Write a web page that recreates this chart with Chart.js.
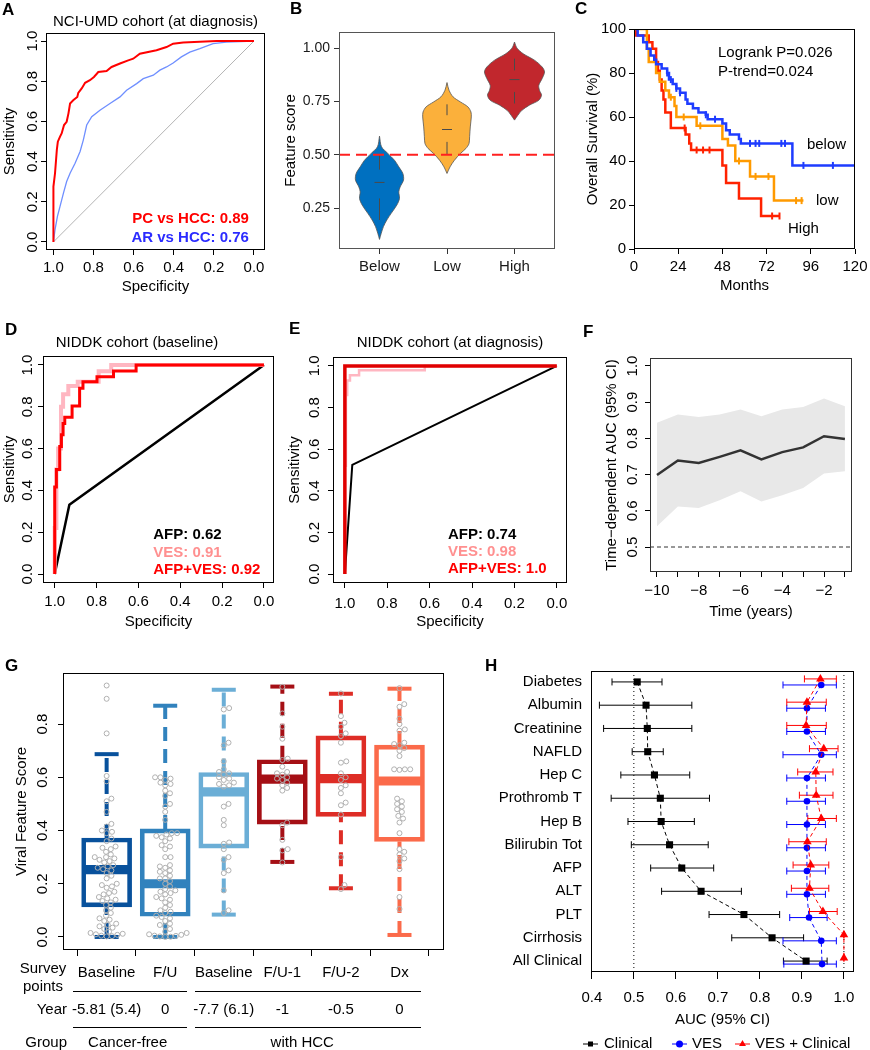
<!DOCTYPE html>
<html lang="en">
<head>
<meta charset="UTF-8">
<title>Viral exposure signature figure</title>
<script src="https://cdn.jsdelivr.net/npm/chart.js"></script>
<style>
  body { margin: 0; background: #fff; font-family: 'Liberation Sans', Arial, sans-serif; }
  #page { position: relative; width: 870px; height: 1050px; overflow: hidden; background: #fff; }
  canvas { position: absolute; }
  .lab { position: absolute; font-weight: bold; font-size: 17px; line-height: 17px; }
  .t { position: absolute; font-size: 15px; line-height: 18px; white-space: nowrap; color: #000; }
  .rule { position: absolute; height: 0; border-top: 1px solid #000; }
</style>
</head>
<body>
<div id="page">
  <canvas id="cA" width="285" height="300" style="left:0px;top:0px"></canvas>
  <canvas id="cB" width="290" height="300" style="left:280px;top:0px"></canvas>
  <canvas id="cC" width="305" height="300" style="left:575px;top:0px"></canvas>
  <canvas id="cD" width="290" height="310" style="left:0px;top:325px"></canvas>
  <canvas id="cE" width="295" height="310" style="left:285px;top:325px"></canvas>
  <canvas id="cF" width="290" height="300" style="left:580px;top:325px"></canvas>
  <canvas id="cG" width="460" height="340" style="left:0px;top:655px"></canvas>
  <canvas id="cH" width="390" height="400" style="left:480px;top:650px"></canvas>

  <div class="lab" style="left:2px;top:1px">A</div>
  <div class="lab" style="left:290px;top:0px">B</div>
  <div class="lab" style="left:575px;top:0px">C</div>
  <div class="lab" style="left:5px;top:321px">D</div>
  <div class="lab" style="left:289px;top:320px">E</div>
  <div class="lab" style="left:583px;top:323px">F</div>
  <div class="lab" style="left:5px;top:657px">G</div>
  <div class="lab" style="left:485px;top:657px">H</div>

  <div class="t" style="left:3px;top:959px;width:80px;text-align:center">Survey<br>points</div>
  <div class="rule" style="left:73px;top:991px;width:114px"></div>
  <div class="rule" style="left:195px;top:991px;width:226px"></div>
  <div class="rule" style="left:73px;top:1027px;width:114px"></div>
  <div class="rule" style="left:195px;top:1027px;width:226px"></div>
  <div class="t" style="left:-33px;top:1000px;width:100px;text-align:right">Year</div>
  <div class="t" style="left:-33px;top:1033px;width:100px;text-align:right">Group</div>
</div>

<script>
    // ---- A: ROC, NCI-UMD cohort ----
    const aPcSpec = [1.0, 1.0, 0.992, 0.983, 0.978, 0.967, 0.959, 0.947, 0.934, 0.925, 0.917, 0.900, 0.881, 0.876, 0.859, 0.842, 0.818, 0.798, 0.776, 0.735, 0.710, 0.668, 0.627, 0.602, 0.569, 0.486, 0.436, 0.403, 0.353, 0.187, 0.0];
    const aPcSens = [0.0, 0.276, 0.342, 0.458, 0.499, 0.524, 0.540, 0.582, 0.598, 0.640, 0.689, 0.706, 0.722, 0.742, 0.764, 0.792, 0.805, 0.821, 0.846, 0.851, 0.871, 0.888, 0.904, 0.912, 0.937, 0.954, 0.970, 0.987, 0.993, 1.0, 1.0];
    const aArSpec = [1.0, 0.992, 0.980, 0.967, 0.950, 0.934, 0.917, 0.892, 0.867, 0.851, 0.834, 0.809, 0.768, 0.718, 0.668, 0.635, 0.585, 0.552, 0.502, 0.469, 0.436, 0.403, 0.362, 0.320, 0.270, 0.204, 0.138, 0.0];
    const aArSens = [0.0, 0.061, 0.127, 0.177, 0.243, 0.301, 0.342, 0.392, 0.450, 0.507, 0.582, 0.623, 0.656, 0.689, 0.722, 0.755, 0.788, 0.813, 0.830, 0.855, 0.871, 0.891, 0.921, 0.945, 0.962, 0.987, 0.995, 1.0];
    const aDiagX = [1, 0];
    const aDiagY = [0, 1];

    // ---- B: violins ----
    const bGroups = ['Below', 'Low', 'High'];
    const bBelowLev = [0.103, 0.131, 0.163, 0.194, 0.225, 0.264, 0.295, 0.326, 0.349, 0.381, 0.412, 0.443, 0.474, 0.506, 0.537, 0.587];
    const bBelowHalf = [0, 0.025, 0.059, 0.109, 0.173, 0.257, 0.296, 0.286, 0.306, 0.356, 0.346, 0.286, 0.222, 0.123, 0.03, 0];
    const bLowLev = [0.412, 0.443, 0.474, 0.506, 0.529, 0.552, 0.584, 0.630, 0.677, 0.700, 0.724, 0.747, 0.771, 0.802, 0.838];
    const bLowHalf = [0, 0.045, 0.11, 0.2, 0.28, 0.326, 0.335, 0.345, 0.36, 0.355, 0.31, 0.2, 0.09, 0.03, 0];
    const bHighLev = [0.662, 0.685, 0.708, 0.732, 0.755, 0.779, 0.802, 0.825, 0.857, 0.888, 0.911, 0.942, 0.973, 1.000, 1.028];
    const bHighHalf = [0, 0.05, 0.11, 0.22, 0.36, 0.4, 0.37, 0.36, 0.41, 0.445, 0.41, 0.3, 0.13, 0.035, 0];
    const bMin = [0.194, 0.503, 0.74];
    const bQ1 = [0.295, 0.56, 0.794];
    const bMed = [0.37, 0.618, 0.852];
    const bQ3 = [0.43, 0.685, 0.895];
    const bMax = [0.50, 0.736, 0.95];

    // ---- C: Kaplan-Meier ----
    const cBelowT = [0, 2, 5, 7, 9, 11, 12, 15, 18, 19, 21, 23, 25, 28, 29, 32, 35, 39, 40, 48, 50, 52, 57, 58, 86, 120];
    const cBelowS = [100, 97, 94, 91, 88, 86, 84, 82, 80, 77, 75, 73, 71, 68, 66, 64, 62, 61, 59, 57, 54, 52, 50, 48, 38, 38];
    const cLowT = [0, 7, 8, 12, 14, 17, 19, 22, 23, 34, 48, 51, 55, 63, 76, 92];
    const cLowS = [100, 91, 85, 80, 76, 72, 69, 65, 60, 56, 50, 47, 40, 33, 22, 22];
    const cHighT = [0, 1, 8, 10, 12, 13, 14, 15, 16, 17, 20, 28, 30, 31, 48, 50, 57, 69, 79];
    const cHighS = [100, 97, 94, 91, 85, 81, 77, 72, 68, 62, 55, 52, 48, 45, 38, 30, 23, 15, 15];
    const cBelowCens = [18, 20, 23, 25, 39, 44, 63, 66, 68, 80, 82, 92, 108];
    const cLowCens = [20, 27, 36, 57, 66, 73, 88, 91];
    const cHighCens = [27.5, 34, 37.5, 41, 75, 79];

    // ---- D / E: NIDDK ROC ----
    const dRedSpec = [1, 0.992, 0.976, 0.968, 0.960, 0.952, 0.917, 0.881, 0.865, 0.798, 0.719, 0.611, 0];
    const dRedSens = [0, 0.416, 0.5, 0.61, 0.666, 0.72, 0.75, 0.804, 0.889, 0.92, 0.944, 0.971, 1];
    const dPinkSpec = [1, 0.992, 0.984, 0.97, 0.96, 0.935, 0.89, 0.79, 0.73, 0.655, 0];
    const dPinkSens = [0, 0.22, 0.5, 0.6, 0.8, 0.86, 0.9, 0.92, 0.97, 1.0, 1.0];
    const dAfpSpec = [1, 0.93, 0];
    const dAfpSens = [0, 0.331, 1];
    const eRedSpec = [1, 1, 0];
    const eRedSens = [0, 1, 1];
    const ePinkSpec = [1, 0.995, 0.989, 0.976, 0.933, 0.623, 0];
    const ePinkSens = [0, 0.52, 0.86, 0.93, 0.955, 0.979, 1];
    const eAfpSpec = [1, 0.965, 0];
    const eAfpSens = [0, 0.525, 1];

    // ---- F: time-dependent AUC ----
    const fYears = [-10, -9, -8, -7, -6, -5, -4, -3, -2, -1];
    const fAuc = [0.699, 0.739, 0.732, 0.749, 0.767, 0.742, 0.762, 0.775, 0.806, 0.798];
    const fUpper = [0.843, 0.866, 0.859, 0.866, 0.880, 0.861, 0.880, 0.887, 0.910, 0.889];
    const fLower = [0.557, 0.612, 0.608, 0.629, 0.654, 0.626, 0.643, 0.663, 0.703, 0.709];

    // ---- G: boxplots ----
    const gSurvey = ['Baseline', 'F/U', 'Baseline', 'F/U-1', 'F/U-2', 'Dx'];
    const gYears = ['-5.81 (5.4)', '0', '-7.7 (6.1)', '-1', '-0.5', '0'];
    const gGroupNames = ['Cancer-free', 'with HCC'];
    const gGroupAt = [1.36, 4.34];
    const gLow = [0.0, 0.0, 0.084, 0.282, 0.183, 0.0075];
    const gQ1 = [0.113, 0.078, 0.334, 0.424, 0.453, 0.359];
    const gMed = [0.253, 0.200, 0.545, 0.593, 0.595, 0.586];
    const gQ3 = [0.372, 0.406, 0.618, 0.666, 0.756, 0.721];
    const gHigh = [0.687, 0.869, 0.929, 0.941, 0.914, 0.933];
    const g1Pts = [0.945, 0.895, 0.765, 0.605, 0.585, 0.52, 0.51, 0.47, 0.425, 0.415, 0.40, 0.395, 0.39, 0.37, 0.36, 0.34, 0.335, 0.33, 0.32, 0.31, 0.30, 0.30, 0.295, 0.29, 0.285, 0.28, 0.27, 0.265, 0.26, 0.255, 0.25, 0.24, 0.23, 0.22, 0.20, 0.195, 0.19, 0.185, 0.17, 0.165, 0.16, 0.15, 0.145, 0.14, 0.135, 0.13, 0.12, 0.11, 0.10, 0.09, 0.08, 0.07, 0.065, 0.06, 0.05, 0.045, 0.04, 0.035, 0.03, 0.02, 0.015, 0.012, 0.01, 0.008, 0.005, 0.003, 0.002];
    const g2Pts = [0.60, 0.60, 0.595, 0.59, 0.58, 0.575, 0.57, 0.55, 0.54, 0.53, 0.50, 0.49, 0.47, 0.44, 0.39, 0.39, 0.385, 0.38, 0.375, 0.37, 0.36, 0.345, 0.34, 0.33, 0.30, 0.30, 0.27, 0.265, 0.26, 0.25, 0.245, 0.24, 0.23, 0.22, 0.22, 0.21, 0.20, 0.19, 0.18, 0.175, 0.17, 0.165, 0.16, 0.15, 0.145, 0.14, 0.13, 0.12, 0.11, 0.10, 0.095, 0.09, 0.08, 0.075, 0.07, 0.06, 0.05, 0.045, 0.04, 0.03, 0.02, 0.015, 0.01, 0.008, 0.005, 0.004, 0.002, 0.001, 0.0];
    const g3Pts = [0.86, 0.855, 0.73, 0.72, 0.66, 0.63, 0.62, 0.615, 0.61, 0.60, 0.595, 0.59, 0.58, 0.575, 0.57, 0.565, 0.50, 0.49, 0.44, 0.42, 0.355, 0.35, 0.33, 0.30, 0.29, 0.25, 0.24, 0.175, 0.10, 0.09];
    const g4Pts = [0.94, 0.84, 0.79, 0.745, 0.67, 0.665, 0.64, 0.62, 0.615, 0.61, 0.60, 0.595, 0.59, 0.58, 0.57, 0.56, 0.55, 0.43, 0.42, 0.365, 0.33, 0.325, 0.28];
    const g5Pts = [0.915, 0.83, 0.805, 0.79, 0.765, 0.755, 0.73, 0.66, 0.655, 0.615, 0.60, 0.59, 0.57, 0.56, 0.54, 0.505, 0.495, 0.46, 0.30, 0.195, 0.18];
    const g6Pts = [0.935, 0.875, 0.865, 0.82, 0.80, 0.78, 0.775, 0.73, 0.725, 0.72, 0.71, 0.70, 0.68, 0.63, 0.63, 0.63, 0.628, 0.52, 0.51, 0.50, 0.49, 0.48, 0.47, 0.455, 0.445, 0.43, 0.39, 0.33, 0.32, 0.31, 0.295, 0.285, 0.255, 0.15, 0.105];

    // ---- H: AUC forest ----
    const hRows = ['Diabetes', 'Albumin', 'Creatinine', 'NAFLD', 'Hep C', 'Prothromb T', 'Hep B', 'Bilirubin Tot', 'AFP', 'ALT', 'PLT', 'Cirrhosis', 'All Clinical'];
    const hClin = [0.508, 0.529, 0.532, 0.533, 0.549, 0.563, 0.565, 0.585, 0.614, 0.660, 0.762, 0.829, 0.910];
    const hClinLo = [0.448, 0.418, 0.428, 0.496, 0.469, 0.446, 0.486, 0.494, 0.540, 0.566, 0.679, 0.733, 0.856];
    const hClinHi = [0.567, 0.638, 0.638, 0.570, 0.633, 0.680, 0.644, 0.677, 0.690, 0.756, 0.847, 0.904, 0.960];
    const hVes = [0.946, 0.912, 0.912, 0.946, 0.912, 0.912, 0.912, 0.912, 0.912, 0.912, 0.917, 0.946, 0.948];
    const hVesLo = [0.855, 0.864, 0.864, 0.855, 0.864, 0.864, 0.864, 0.864, 0.864, 0.864, 0.871, 0.855, 0.857];
    const hVesHi = [0.982, 0.956, 0.956, 0.982, 0.956, 0.956, 0.956, 0.956, 0.956, 0.956, 0.960, 0.982, 0.982];
    const hBoth = [0.944, 0.912, 0.910, 0.952, 0.933, 0.934, 0.946, 0.913, 0.921, 0.918, 0.950, 1.0, 1.0];
    const hBothLo = [0.906, 0.864, 0.864, 0.918, 0.890, 0.894, 0.914, 0.869, 0.879, 0.875, 0.918, 1.0, 1.0];
    const hBothHi = [0.982, 0.958, 0.958, 0.986, 0.974, 0.974, 0.982, 0.958, 0.964, 0.964, 0.984, 1.0, 1.0];

    const FONT = "'Liberation Sans', Arial, Helvetica, sans-serif";
    Chart.defaults.font.family = FONT;
    Chart.defaults.color = '#000';

    // box round the plot area, like R's box()
    const framePlugin = {
        id: 'frame',
        afterDraw(chart, args, o) {
            if (!o.color) return;
            const a = chart.chartArea, ctx = chart.ctx;
            ctx.save();
            ctx.strokeStyle = o.color;
            ctx.lineWidth = o.width || 1;
            ctx.strokeRect(Math.round(a.left) + 0.5, Math.round(a.top) + 0.5, Math.round(a.right - a.left) - 1, Math.round(a.bottom - a.top) - 1);
            ctx.restore();
        }
    };

    function drawRefs(chart, o, top) {
        const ar = chart.chartArea, ctx = chart.ctx;
        (o.lines || []).forEach(l => {
            if (!!l.top !== top) return;
            ctx.save();
            ctx.beginPath();
            ctx.rect(ar.left, ar.top, ar.right - ar.left, ar.bottom - ar.top);
            ctx.clip();
            ctx.strokeStyle = l.color;
            ctx.lineWidth = l.width;
            ctx.setLineDash(Array.from(l.dash || []));
            ctx.beginPath();
            if (l.axis === 'y') {
                const p = chart.scales.y.getPixelForValue(l.value);
                ctx.moveTo(ar.left, p); ctx.lineTo(ar.right, p);
            } else {
                const p = chart.scales.x.getPixelForValue(l.value);
                ctx.moveTo(p, ar.top); ctx.lineTo(p, ar.bottom);
            }
            ctx.stroke();
            ctx.restore();
        });
    }
    const refPlugin = {
        id: 'refLines',
        beforeDatasetsDraw(chart, args, o) { drawRefs(chart, o, false); },
        afterDatasetsDraw(chart, args, o) { drawRefs(chart, o, true); }
    };

    const notesPlugin = {
        id: 'notes',
        afterDraw(chart, args, o) {
            const ctx = chart.ctx;
            (o.items || []).forEach(n => {
                ctx.save();
                ctx.font = (n.bold ? 'bold ' : '') + (n.size || 15) + 'px ' + FONT;
                ctx.fillStyle = n.color || '#000';
                ctx.textAlign = n.align || 'left';
                ctx.textBaseline = 'middle';
                ctx.fillText(n.text, chart.scales.x.getPixelForValue(n.x), chart.scales.y.getPixelForValue(n.y));
                ctx.restore();
            });
        }
    };

    function mark(ctx, s, x, y, r) {
        ctx.beginPath();
        if (s === 'rect') ctx.rect(x - r, y - r, 2 * r, 2 * r);
        else if (s === 'circle') ctx.arc(x, y, r, 0, Math.PI * 2);
        else { ctx.moveTo(x, y - r); ctx.lineTo(x + r * 0.87, y + r * 0.5); ctx.lineTo(x - r * 0.87, y + r * 0.5); ctx.closePath(); }
        ctx.fill();
    }
    const keyPlugin = {
        id: 'rlegend',
        afterDraw(chart, args, o) {
            const ctx = chart.ctx;
            (o.items || []).forEach(it => {
                ctx.save();
                ctx.strokeStyle = it.color; ctx.fillStyle = it.color; ctx.lineWidth = 1;
                ctx.beginPath(); ctx.moveTo(it.x1, o.y); ctx.lineTo(it.x2, o.y); ctx.stroke();
                mark(ctx, it.style, (it.x1 + it.x2) / 2, o.y, it.r);
                ctx.fillStyle = '#000';
                ctx.font = '15px ' + FONT;
                ctx.textBaseline = 'middle';
                ctx.textAlign = 'left';
                ctx.fillText(it.label, it.tx, o.y);
                ctx.restore();
            });
        }
    };
    Chart.register(framePlugin, refPlugin, notesPlugin, keyPlugin);

    const P = (xs, ys) => xs.map((x, i) => ({ x, y: ys[i] }));
    const f1 = v => v.toFixed(1);
    const tk02 = [0, 0.2, 0.4, 0.6, 0.8, 1.0];

    // R-like axis: fixed size, ticks outside, labels optionally rotated
    function axis(o) {
        return {
            type: 'linear', min: o.min, max: o.max, reverse: !!o.reverse, offset: false,
            afterBuildTicks: s => { s.ticks = o.ticks.map(v => ({ value: v })); },
            afterFit: s => { if (o.w !== undefined) s.width = o.w; if (o.h !== undefined) s.height = o.h; },
            grid: { display: !!o.tl, drawOnChartArea: false, drawTicks: !!o.tl, tickLength: o.tl || 0, tickColor: o.color || '#000', tickWidth: 1 },
            border: { display: false },
            ticks: {
                autoSkip: false, padding: o.pad || 0, color: o.labelColor || '#000',
                font: { size: o.size || 15 }, callback: o.fmt || (v => v),
                minRotation: o.rot || 0, maxRotation: o.rot || 0, crossAlign: o.rot ? 'center' : 'near'
            },
            title: o.title ? { display: true, text: o.title, color: '#000', font: { size: o.tsize || 15 }, padding: o.tpad } : { display: false }
        };
    }

    function opts(c) {
        return {
            responsive: false, animation: false, devicePixelRatio: 1, events: [],
            layout: { padding: { left: 0, top: c.top || 0, right: c.right || 0, bottom: 0 } },
            scales: { x: c.x, y: c.y },
            elements: { point: { radius: 0 }, line: { tension: 0 } },
            plugins: {
                legend: { display: false },
                tooltip: { enabled: false },
                title: c.title ? {
                    display: true, text: c.title.text, fullSize: c.title.full, color: '#000',
                    font: { size: 15, weight: 'normal' }, padding: { top: c.title.pt, bottom: c.title.pb }
                } : { display: false },
                frame: { color: c.frame || '#000', width: 1 },
                refLines: { lines: c.lines || [] },
                notes: { items: c.notes || [] },
                rlegend: { items: c.legend || [], y: c.legendY || 0 }
            }
        };
    }

    // ---------- A ----------
    new Chart(document.getElementById('cA'), {
        type: 'line',
        data: {
            datasets: [
                { data: P(aPcSpec, aPcSens), borderColor: '#ff0000', borderWidth: 2 },
                { data: P(aArSpec, aArSens), borderColor: '#6f8fff', borderWidth: 1.3 },
                { data: P(aDiagX, aDiagY), borderColor: '#b3b3b3', borderWidth: 1 }
            ]
        },
        options: opts({
            top: 0, right: 20,
            title: { text: 'NCI-UMD cohort (at diagnosis)', pt: 13, pb: 2, full: false },
            x: axis({ min: -0.055, max: 1.037, reverse: true, ticks: tk02, fmt: f1, tl: 5, pad: 4, h: 50, title: 'Specificity', tpad: { top: 0, bottom: 4.5 } }),
            y: axis({ min: -0.04, max: 1.04, ticks: tk02, fmt: f1, tl: 5, pad: -2.4, rot: 90, w: 46, title: 'Sensitivity', tpad: { top: 1, bottom: 0 } }),
            notes: [
                { text: 'PC vs HCC: 0.89', x: 0.025, y: 0.114, color: '#ff0000', bold: true, align: 'right' },
                { text: 'AR vs HCC: 0.76', x: 0.025, y: 0.02, color: '#2b2bff', bold: true, align: 'right' }
            ]
        })
    });

    // ---------- B ----------
    function violin(center, lev, half, color) {
        const right = lev.map((y, i) => ({ x: center + half[i], y }));
        const left = lev.map((y, i) => ({ x: center - half[i], y })).reverse();
        return { data: right.concat(left), fill: 'shape', backgroundColor: color, borderColor: '#555', borderWidth: 0.8, tension: 0.3 };
    }
    const bInner = [];
    bMed.forEach((m, i) => {
        bInner.push({ x: i + 1, y: bQ3[i] }, { x: i + 1, y: bMax[i] }, { x: null, y: null },
                    { x: i + 1, y: bMin[i] }, { x: i + 1, y: bQ1[i] }, { x: null, y: null });
    });
    new Chart(document.getElementById('cB'), {
        type: 'line',
        data: {
            datasets: [
                { data: bInner, borderColor: '#4a4a4a', borderWidth: 1 },
                { type: 'scatter', data: bMed.map((m, i) => ({ x: i + 1, y: m })), pointStyle: 'line', pointRadius: 5, borderColor: '#4a4a4a', pointBorderWidth: 1 },
                violin(1, bBelowLev, bBelowHalf, '#0070c0'),
                violin(2, bLowLev, bLowHalf, '#fbb03b'),
                violin(3, bHighLev, bHighHalf, '#c1272d')
            ]
        },
        options: opts({
            top: 32, right: 15, frame: '#555',
            x: axis({ min: 0.4, max: 3.6, ticks: [1, 2, 3], fmt: v => bGroups[v - 1], tl: 5, pad: 4, h: 51, color: '#333', labelColor: '#1a1a1a' }),
            y: axis({ min: 0.058, max: 1.075, ticks: [0.25, 0.5, 0.75, 1], fmt: v => v.toFixed(2), tl: 5, pad: 4, w: 59, size: 14, color: '#333', labelColor: '#1a1a1a', title: 'Feature score', tpad: { top: 2, bottom: 0 } }),
            lines: [{ axis: 'y', value: 0.5, color: '#ff2020', width: 2, dash: [11, 6], top: true }]
        })
    });

    // ---------- C ----------
    function kmAt(T, S, t) {
        let s = S[0];
        T.forEach((v, i) => { if (v <= t) s = S[i]; });
        return s;
    }
    function censor(times, T, S, color) {
        return { type: 'scatter', data: times.map(t => ({ x: t, y: kmAt(T, S, t) })), pointStyle: 'line', pointRotation: 90, pointRadius: 3.5, borderColor: color, pointBorderWidth: 2 };
    }
    const cBlue = '#1e3cff', cOrange = '#ff9a00', cRed = '#ff2200';
    new Chart(document.getElementById('cC'), {
        type: 'line',
        data: {
            datasets: [
                censor(cBelowCens, cBelowT, cBelowS, cBlue),
                censor(cLowCens, cLowT, cLowS, cOrange),
                censor(cHighCens, cHighT, cHighS, cRed),
                { data: P(cBelowT, cBelowS), stepped: true, borderColor: cBlue, borderWidth: 2.5 },
                { data: P(cLowT, cLowS), stepped: true, borderColor: cOrange, borderWidth: 2.5 },
                { data: P(cHighT, cHighS), stepped: true, borderColor: cRed, borderWidth: 2.5 }
            ]
        },
        options: opts({
            top: 29, right: 25,
            x: axis({ min: 0, max: 120, ticks: [0, 24, 48, 72, 96, 120], tl: 5, pad: 4, h: 51, title: 'Months', tpad: { top: 0, bottom: 5 } }),
            y: axis({ min: 0, max: 100, ticks: [0, 20, 40, 60, 80, 100], tl: 5, pad: 3, w: 59, title: 'Overall Survival (%)', tpad: { top: 9, bottom: 0 } }),
            notes: [
                { text: 'Logrank P=0.026', x: 45.6, y: 89.1 },
                { text: 'P-trend=0.024', x: 45.6, y: 80.5 },
                { text: 'below', x: 93.9, y: 47.3 },
                { text: 'low', x: 98.8, y: 21.8 },
                { text: 'High', x: 83.6, y: 9.1 }
            ]
        })
    });

    // ---------- D ----------
    new Chart(document.getElementById('cD'), {
        type: 'line',
        data: {
            datasets: [
                { data: P(dRedSpec, dRedSens), stepped: 'after', borderColor: '#ff0000', borderWidth: 3 },
                { data: P(dPinkSpec, dPinkSens), stepped: 'after', borderColor: '#ffb6c1', borderWidth: 4 },
                { data: P(dAfpSpec, dAfpSens), borderColor: '#000', borderWidth: 2.5 }
            ]
        },
        options: opts({
            top: 0, right: 16,
            title: { text: 'NIDDK cohort (baseline)', pt: 9, pb: 4, full: true },
            x: axis({ min: -0.048, max: 1.056, reverse: true, ticks: tk02, fmt: f1, tl: 5, pad: 5, h: 52, title: 'Specificity', tpad: { top: 0, bottom: 4 } }),
            y: axis({ min: -0.043, max: 1.043, ticks: tk02, fmt: f1, tl: 5, pad: -0.4, rot: 90, w: 43, title: 'Sensitivity', tpad: { top: 1, bottom: 0 } }),
            notes: [
                { text: 'AFP: 0.62', x: 0.529, y: 0.187, color: '#000', bold: true },
                { text: 'VES: 0.91', x: 0.529, y: 0.10, color: '#ff9090', bold: true },
                { text: 'AFP+VES: 0.92', x: 0.529, y: 0.019, color: '#ff0000', bold: true }
            ]
        })
    });

    // ---------- E ----------
    new Chart(document.getElementById('cE'), {
        type: 'line',
        data: {
            datasets: [
                { data: P(eRedSpec, eRedSens), borderColor: '#e00000', borderWidth: 3.5 },
                { data: P(ePinkSpec, ePinkSens), stepped: 'after', borderColor: '#ffb6c1', borderWidth: 2.5 },
                { data: P(eAfpSpec, eAfpSens), borderColor: '#000', borderWidth: 2 }
            ]
        },
        options: opts({
            top: 0, right: 13,
            title: { text: 'NIDDK cohort (at diagnosis)', pt: 9, pb: 5, full: false },
            x: axis({ min: -0.048, max: 1.056, reverse: true, ticks: tk02, fmt: f1, tl: 5, pad: 7, h: 52, title: 'Specificity', tpad: { top: 0, bottom: 4 } }),
            y: axis({ min: -0.043, max: 1.043, ticks: tk02, fmt: f1, tl: 5, pad: 2.6, rot: 90, w: 48, title: 'Sensitivity', tpad: { top: 1, bottom: 0 } }),
            notes: [
                { text: 'AFP: 0.74', x: 0.514, y: 0.186, color: '#000', bold: true },
                { text: 'VES: 0.98', x: 0.514, y: 0.105, color: '#ff9090', bold: true },
                { text: 'AFP+VES: 1.0', x: 0.514, y: 0.024, color: '#ff0000', bold: true }
            ]
        })
    });

    // ---------- F ----------
    new Chart(document.getElementById('cF'), {
        type: 'line',
        data: {
            datasets: [
                { data: P(fYears, fAuc), borderColor: '#333', borderWidth: 2.5 },
                { data: P(fYears, fUpper), borderColor: 'rgba(0,0,0,0)', borderWidth: 0, fill: '+1', backgroundColor: '#e8e8e8' },
                { data: P(fYears, fLower), borderColor: 'rgba(0,0,0,0)', borderWidth: 0 }
            ]
        },
        options: opts({
            top: 33, right: 18, frame: '#333',
            x: axis({ min: -10.335, max: -0.66, ticks: fYears, fmt: v => (v % 2 === 0 ? '\u2212' + (-v) : ''), tl: 5, pad: 5, h: 53, title: 'Time (years)', tpad: { top: 0, bottom: 4 } }),
            y: axis({ min: 0.431, max: 1.022, ticks: [0.5, 0.6, 0.7, 0.8, 0.9, 1.0], fmt: f1, tl: 5, pad: 1.6, rot: 90, w: 70, title: 'Time\u2212dependent AUC (95% CI)', tpad: { top: 23, bottom: 0 } }),
            lines: [{ axis: 'y', value: 0.5, color: '#333', width: 1, dash: [4, 3] }]
        })
    });

    // ---------- G ----------
    const gColors = ['#08519c', '#3182bd', '#6baed6', '#a50f15', '#de2d26', '#fb6a4a'];
    // simple swarm layout so points do not overlap (pixel sizes of the panel)
    function swarm(vals, center) {
        const pxX = 59, pxY = 266, d = 5.2;
        const placed = [];
        return vals.slice().sort((a, b) => a - b).map(v => {
            const py = v * pxY;
            let k = 0, off = 0;
            for (;;) {
                off = (k % 2 ? 1 : -1) * Math.ceil(k / 2) * 0.6;
                if (placed.every(p => (p.x - off) ** 2 + (p.y - py) ** 2 >= d * d)) break;
                k++;
            }
            placed.push({ x: off, y: py });
            return { x: center + off / pxX, y: v };
        });
    }
    const gAllPts = [g1Pts, g2Pts, g3Pts, g4Pts, g5Pts, g6Pts].map((g, i) => swarm(g, i + 1)).flat();
    const gWhiskers = gColors.map((c, i) => ({
        data: [{ x: i + 1, y: gLow[i] }, { x: i + 1, y: gQ1[i] }, { x: null, y: null }, { x: i + 1, y: gQ3[i] }, { x: i + 1, y: gHigh[i] }],
        borderColor: c, borderWidth: 4, borderDash: [14, 8]
    }));
    const chartG = new Chart(document.getElementById('cG'), {
        type: 'line',
        data: {
            datasets: [
                { type: 'scatter', data: gAllPts, pointRadius: 2.5, pointBorderColor: '#b0b0b0', pointBackgroundColor: 'rgba(255,255,255,0)', pointBorderWidth: 1 },
                { type: 'bar', data: gMed.map((m, i) => ({ x: i + 1, y: [m - 0.016, m + 0.016] })), backgroundColor: gColors, borderWidth: 0, barThickness: 48, grouped: false },
                { type: 'bar', data: gQ1.map((q, i) => ({ x: i + 1, y: [q, gQ3[i]] })), backgroundColor: 'rgba(0,0,0,0)', borderColor: gColors, borderWidth: 4, borderSkipped: false, barThickness: 50, grouped: false },
                { type: 'scatter', data: gLow.map((v, i) => ({ x: i + 1, y: v })).concat(gHigh.map((v, i) => ({ x: i + 1, y: v }))), pointStyle: 'line', pointRadius: 12, pointBorderWidth: 4, pointBorderColor: gColors.concat(gColors) },
                ...gWhiskers
            ]
        },
        options: opts({
            top: 18, right: 13,
            x: axis({ min: 0.255, max: 6.76, ticks: [1, 2, 3, 4, 5, 6], fmt: v => gSurvey[v - 1], tl: 6, pad: 8, h: 45 }),
            y: axis({ min: -0.049, max: 0.992, ticks: [0, 0.2, 0.4, 0.6, 0.8], fmt: f1, tl: 5, pad: 4.6, rot: 90, w: 63, title: 'Viral Feature Score', tpad: { top: 13, bottom: 0 } })
        })
    });

    // table under G, aligned on the G x scale
    const page = document.getElementById('page');
    function addText(text, x, yc, align) {
        const d = document.createElement('div');
        d.className = 't';
        d.textContent = text;
        d.style.top = (yc - 9) + 'px';
        d.style.width = '140px';
        d.style.left = (align === 'center' ? x - 70 : x - 140) + 'px';
        d.style.textAlign = align;
        page.appendChild(d);
    }
    const gx = v => chartG.scales.x.getPixelForValue(v);
    gYears.forEach((t, i) => addText(t, gx(i + 1), 1009, 'center'));
    gGroupNames.forEach((t, i) => addText(t, gx(gGroupAt[i]), 1042, 'center'));

    // ---------- H ----------
    function ebars(lo, hi, off) {
        const out = [];
        lo.forEach((v, i) => { out.push({ x: v, y: i + 1 + off }, { x: hi[i], y: i + 1 + off }, { x: null, y: null }); });
        return out;
    }
    function markers(vals, off, style, color, r) {
        return {
            data: vals.map((v, i) => ({ x: v, y: i + 1 + off })), borderColor: color, borderWidth: 1, borderDash: [4, 3],
            pointStyle: style, pointRadius: r, pointBackgroundColor: color, pointBorderColor: color, pointBorderWidth: 0
        };
    }
    function errs(lo, hi, off, color) {
        return {
            data: ebars(lo, hi, off), borderColor: color, borderWidth: 1,
            pointStyle: 'line', pointRotation: 90, pointRadius: 3.5, pointBorderColor: color, pointBorderWidth: 1
        };
    }
    new Chart(document.getElementById('cH'), {
        type: 'line',
        data: {
            datasets: [
                markers(hBoth, -0.13, 'triangle', '#ff0000', 5),
                markers(hVes, 0.13, 'circle', '#0000ff', 3.3),
                markers(hClin, 0, 'rect', '#000', 5),
                errs(hBothLo, hBothHi, -0.13, '#ff0000'),
                errs(hVesLo, hVesHi, 0.13, '#0000ff'),
                errs(hClinLo, hClinHi, 0, '#000')
            ]
        },
        options: opts({
            top: 21, right: 16,
            x: axis({ min: 0.398, max: 1.024, ticks: [0.4, 0.5, 0.6, 0.7, 0.8, 0.9, 1.0], fmt: f1, tl: 7, pad: 10, h: 78, title: 'AUC (95% CI)', tpad: { top: 0, bottom: 21 } }),
            y: axis({ min: 0.53, max: 13.47, reverse: true, ticks: hRows.map((r, i) => i + 1), fmt: v => hRows[v - 1], tl: 0, pad: 9, w: 111 }),
            lines: [
                { axis: 'x', value: 0.5, color: '#000', width: 1, dash: [1, 3] },
                { axis: 'x', value: 1.0, color: '#000', width: 1, dash: [1, 3] }
            ],
            legendY: 394,
            legend: [
                { label: 'Clinical', color: '#000', style: 'rect', r: 2.5, x1: 103, x2: 118, tx: 124 },
                { label: 'VES', color: '#0000ff', style: 'circle', r: 3.5, x1: 192, x2: 207, tx: 212 },
                { label: 'VES + Clinical', color: '#ff0000', style: 'tri', r: 4, x1: 255, x2: 270, tx: 275 }
            ]
        })
    });
</script>
</body>
</html>
